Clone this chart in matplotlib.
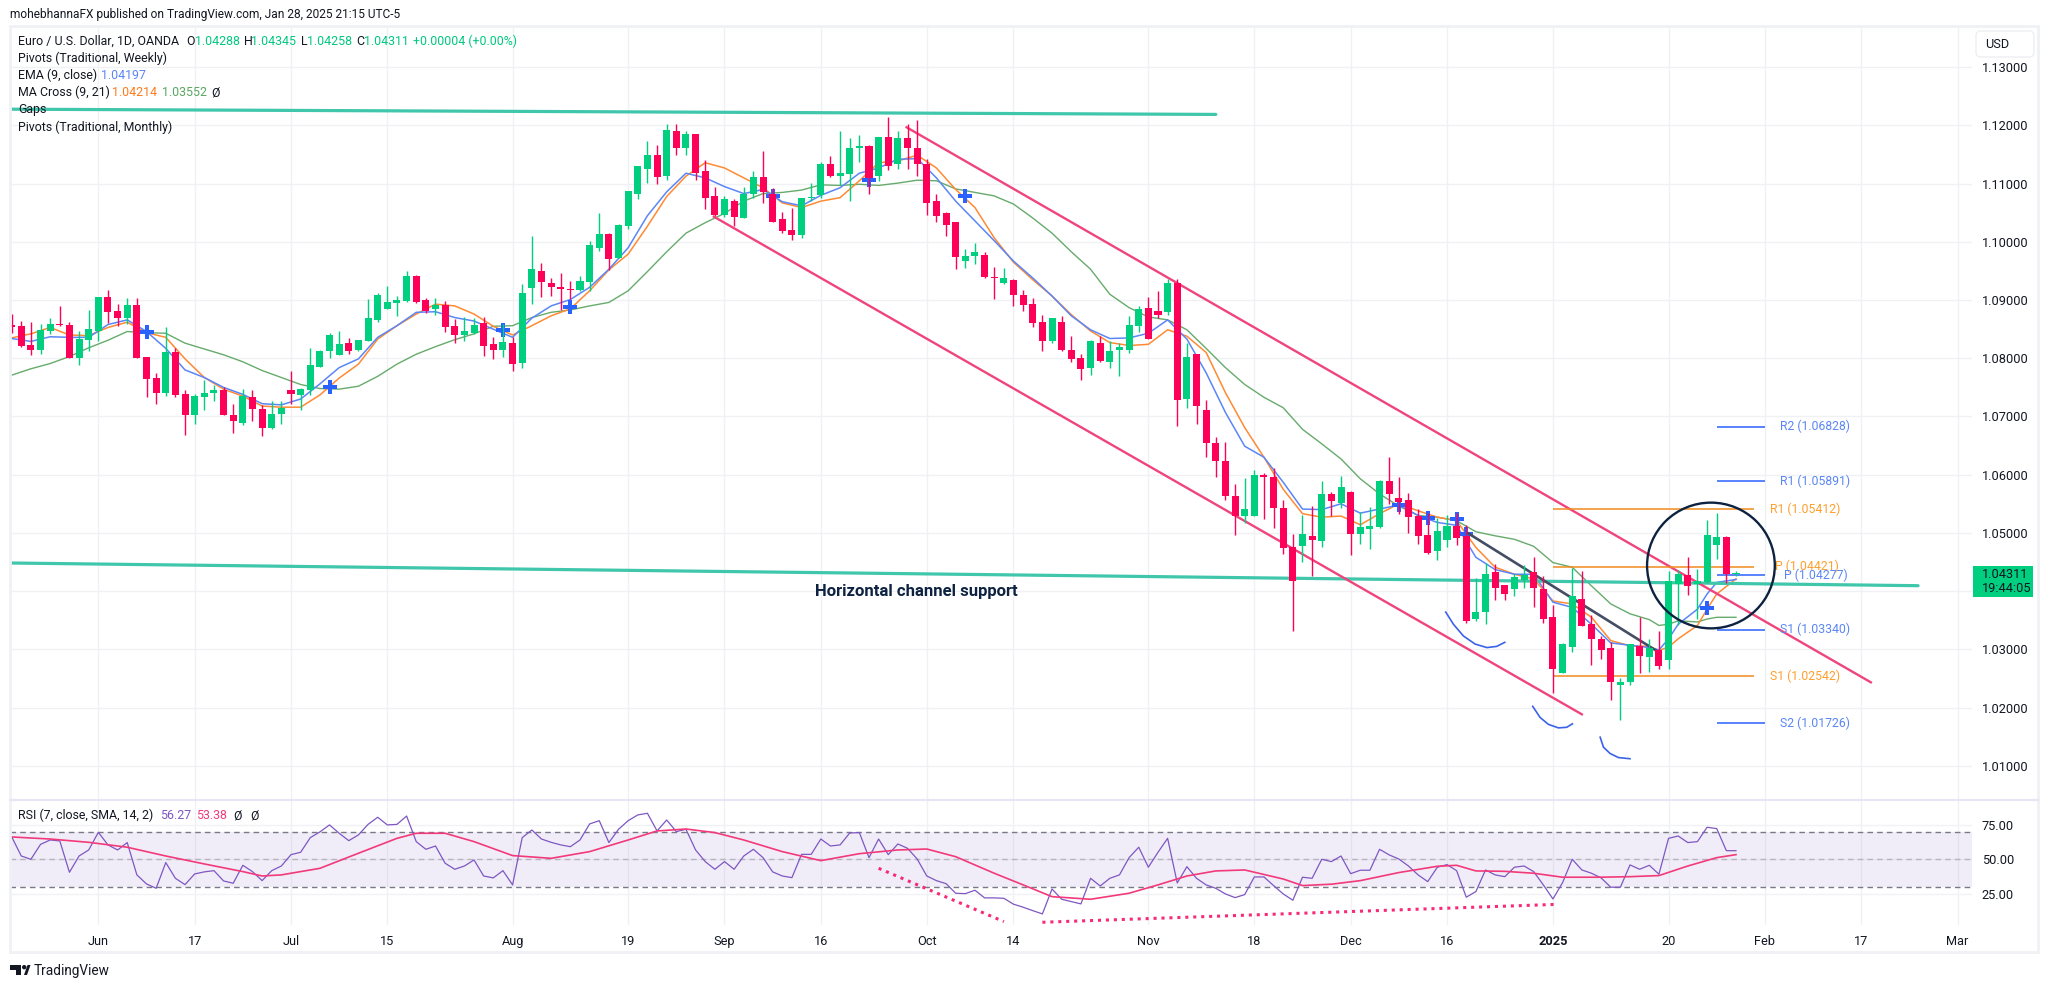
import matplotlib
matplotlib.use("Agg")
import matplotlib.pyplot as plt
from matplotlib.patches import Ellipse, Rectangle, FancyBboxPatch, Polygon, Circle
from matplotlib.transforms import Affine2D

# EURUSD daily candles
opens = [
    1.0857, 1.0855, 1.0823, 1.0814, 1.0847, 1.0859, 1.0857, 1.0800, 1.0831, 1.0847,
    1.0905, 1.0881, 1.0869, 1.0891, 1.0802, 1.0766, 1.0741, 1.0811, 1.0739, 1.0703,
    1.0734, 1.0741, 1.0746, 1.0703, 1.0689, 1.0734, 1.0713, 1.0681, 1.0705, 1.0746,
    1.0737, 1.0746, 1.0785, 1.0813, 1.0806, 1.0826, 1.0814, 1.0830, 1.0866, 1.0884,
    1.0895, 1.0898, 1.0941, 1.0900, 1.0884, 1.0891, 1.0855, 1.0840, 1.0843, 1.0860,
    1.0825, 1.0814, 1.0826, 1.0792, 1.0921, 1.0950, 1.0929, 1.0922, 1.0919, 1.0917,
    1.0931, 1.0989, 1.1013, 1.0972, 1.1027, 1.1082, 1.1126, 1.1150, 1.1113, 1.1191,
    1.1161, 1.1185, 1.1121, 1.1078, 1.1047, 1.1071, 1.1041, 1.1083, 1.1111, 1.1083,
    1.1039, 1.1020, 1.1011, 1.1075, 1.1080, 1.1133, 1.1114, 1.1116, 1.1162, 1.1164,
    1.1114, 1.1181, 1.1133, 1.1178, 1.1161, 1.1133, 1.1070, 1.1049, 1.1034, 1.0967,
    1.0975, 1.0977, 1.0939, 1.0929, 1.0934, 1.0908, 1.0893, 1.0862, 1.0829, 1.0862,
    1.0815, 1.0800, 1.0783, 1.0827, 1.0793, 1.0814, 1.0815, 1.0855, 1.0886, 1.0882,
    1.0879, 1.0930, 1.0730, 1.0807, 1.0711, 1.0654, 1.0623, 1.0563, 1.0529, 1.0529,
    1.0599, 1.0596, 1.0543, 1.0476, 1.0478, 1.0495, 1.0486, 1.0567, 1.0551, 1.0570,
    1.0498, 1.0507, 1.0510, 1.0589, 1.0560, 1.0556, 1.0529, 1.0496, 1.0469, 1.0488,
    1.0512, 1.0494, 1.0352, 1.0364, 1.0433, 1.0410, 1.0403, 1.0419, 1.0433, 1.0403,
    1.0355, 1.0259, 1.0304, 1.0386, 1.0343, 1.0318, 1.0302, 1.0239, 1.0244, 1.0306,
    1.0286, 1.0299, 1.0282, 1.0412, 1.0427, 1.0412, 1.0415, 1.0479, 1.0493, 1.04288,
]
highs = [
    1.0876, 1.0864, 1.0862, 1.0859, 1.0869, 1.0890, 1.0862, 1.0847, 1.0883, 1.0905,
    1.0917, 1.0893, 1.0903, 1.0903, 1.0802, 1.0775, 1.0854, 1.0817, 1.0746, 1.0739,
    1.0763, 1.0754, 1.0751, 1.0722, 1.0747, 1.0746, 1.0720, 1.0727, 1.0727, 1.0778,
    1.0749, 1.0818, 1.0814, 1.0843, 1.0847, 1.0835, 1.0831, 1.0902, 1.0912, 1.0924,
    1.0907, 1.0950, 1.0943, 1.0903, 1.0903, 1.0898, 1.0867, 1.0871, 1.0869, 1.0871,
    1.0836, 1.0859, 1.0836, 1.0927, 1.1010, 1.0963, 1.0938, 1.0946, 1.0933, 1.0941,
    1.1001, 1.1049, 1.1016, 1.1030, 1.1087, 1.1131, 1.1174, 1.1166, 1.1202, 1.1202,
    1.1191, 1.1186, 1.1140, 1.1095, 1.1078, 1.1073, 1.1095, 1.1121, 1.1157, 1.1092,
    1.1051, 1.1058, 1.1076, 1.1102, 1.1138, 1.1147, 1.1190, 1.1179, 1.1183, 1.1167,
    1.1181, 1.1215, 1.1190, 1.1203, 1.1210, 1.1143, 1.1083, 1.1051, 1.1034, 1.0987,
    1.0998, 1.0982, 1.0957, 1.0955, 1.0936, 1.0917, 1.0903, 1.0875, 1.0870, 1.0872,
    1.0839, 1.0807, 1.0831, 1.0839, 1.0829, 1.0827, 1.0872, 1.0889, 1.0906, 1.0915,
    1.0937, 1.0937, 1.0826, 1.0807, 1.0728, 1.0665, 1.0656, 1.0584, 1.0594, 1.0608,
    1.0603, 1.0611, 1.0557, 1.0498, 1.0531, 1.0546, 1.0589, 1.0570, 1.0598, 1.0572,
    1.0536, 1.0545, 1.0591, 1.0630, 1.0596, 1.0568, 1.0541, 1.0535, 1.0525, 1.0530,
    1.0535, 1.0513, 1.0422, 1.0448, 1.0446, 1.0410, 1.0429, 1.0445, 1.0458, 1.0426,
    1.0376, 1.0311, 1.0439, 1.0434, 1.0359, 1.0323, 1.0313, 1.0251, 1.0309, 1.0355,
    1.0317, 1.0331, 1.0434, 1.0436, 1.0458, 1.0438, 1.0522, 1.0534, 1.0494, 1.04345,
]
lows = [
    1.0843, 1.0819, 1.0806, 1.0807, 1.0842, 1.0855, 1.0800, 1.0789, 1.0813, 1.0830,
    1.0860, 1.0855, 1.0859, 1.0800, 1.0734, 1.0722, 1.0735, 1.0734, 1.0669, 1.0687,
    1.0711, 1.0727, 1.0703, 1.0672, 1.0686, 1.0693, 1.0667, 1.0679, 1.0687, 1.0722,
    1.0711, 1.0737, 1.0785, 1.0800, 1.0806, 1.0807, 1.0813, 1.0830, 1.0862, 1.0884,
    1.0872, 1.0896, 1.0895, 1.0878, 1.0874, 1.0845, 1.0826, 1.0830, 1.0842, 1.0804,
    1.0799, 1.0802, 1.0778, 1.0783, 1.0893, 1.0905, 1.0907, 1.0883, 1.0902, 1.0915,
    1.0915, 1.0984, 1.0951, 1.0972, 1.1023, 1.1073, 1.1101, 1.1099, 1.1106, 1.1150,
    1.1150, 1.1106, 1.1056, 1.1044, 1.1042, 1.1027, 1.1041, 1.1075, 1.1066, 1.1034,
    1.1016, 1.1003, 1.1006, 1.1071, 1.1076, 1.1111, 1.1097, 1.1070, 1.1137, 1.1083,
    1.1104, 1.1123, 1.1126, 1.1126, 1.1114, 1.1047, 1.1034, 1.1010, 1.0953, 1.0955,
    1.0962, 1.0938, 1.0902, 1.0927, 1.0890, 1.0882, 1.0853, 1.0812, 1.0826, 1.0812,
    1.0793, 1.0762, 1.0771, 1.0793, 1.0783, 1.0769, 1.0809, 1.0846, 1.0833, 1.0870,
    1.0874, 1.0683, 1.0714, 1.0687, 1.0630, 1.0596, 1.0557, 1.0497, 1.0517, 1.0529,
    1.0524, 1.0509, 1.0464, 1.0332, 1.0450, 1.0426, 1.0476, 1.0529, 1.0543, 1.0462,
    1.0481, 1.0473, 1.0509, 1.0550, 1.0533, 1.0499, 1.0481, 1.0463, 1.0453, 1.0476,
    1.0479, 1.0345, 1.0349, 1.0343, 1.0385, 1.0385, 1.0391, 1.0405, 1.0373, 1.0345,
    1.0225, 1.0259, 1.0296, 1.0340, 1.0273, 1.0283, 1.0213, 1.0179, 1.0239, 1.0259,
    1.0261, 1.0266, 1.0266, 1.0342, 1.0393, 1.0352, 1.0414, 1.0455, 1.0414, 1.04258,
]
closes = [
    1.0854, 1.0821, 1.0814, 1.0849, 1.0859, 1.0857, 1.0800, 1.0834, 1.0850, 1.0905,
    1.0879, 1.0869, 1.0891, 1.0800, 1.0765, 1.0741, 1.0811, 1.0737, 1.0703, 1.0735,
    1.0741, 1.0746, 1.0703, 1.0693, 1.0735, 1.0713, 1.0681, 1.0705, 1.0715, 1.0739,
    1.0747, 1.0789, 1.0813, 1.0840, 1.0825, 1.0813, 1.0831, 1.0869, 1.0908, 1.0896,
    1.0900, 1.0941, 1.0896, 1.0881, 1.0891, 1.0854, 1.0840, 1.0847, 1.0857, 1.0821,
    1.0814, 1.0828, 1.0790, 1.0912, 1.0953, 1.0931, 1.0922, 1.0919, 1.0917, 1.0933,
    1.0994, 1.1013, 1.0970, 1.1029, 1.1087, 1.1130, 1.1150, 1.1111, 1.1193, 1.1161,
    1.1185, 1.1119, 1.1076, 1.1046, 1.1073, 1.1042, 1.1083, 1.1111, 1.1085, 1.1034,
    1.1018, 1.1011, 1.1075, 1.1076, 1.1133, 1.1113, 1.1118, 1.1162, 1.1164, 1.1109,
    1.1181, 1.1131, 1.1178, 1.1162, 1.1133, 1.1066, 1.1044, 1.1029, 1.0974, 1.0975,
    1.0982, 1.0939, 1.0938, 1.0938, 1.0909, 1.0891, 1.0860, 1.0829, 1.0869, 1.0814,
    1.0798, 1.0781, 1.0829, 1.0795, 1.0812, 1.0819, 1.0857, 1.0884, 1.0833, 1.0875,
    1.0930, 1.0728, 1.0803, 1.0718, 1.0654, 1.0623, 1.0563, 1.0529, 1.0541, 1.0599,
    1.0596, 1.0543, 1.0474, 1.0418, 1.0498, 1.0488, 1.0567, 1.0555, 1.0579, 1.0498,
    1.0510, 1.0512, 1.0589, 1.0567, 1.0553, 1.0527, 1.0494, 1.0465, 1.0503, 1.0512,
    1.0491, 1.0349, 1.0364, 1.0429, 1.0405, 1.0395, 1.0424, 1.0427, 1.0405, 1.0352,
    1.0266, 1.0309, 1.0391, 1.0340, 1.0318, 1.0299, 1.0244, 1.0244, 1.0309, 1.0288,
    1.0302, 1.0272, 1.0417, 1.0429, 1.0409, 1.0418, 1.0496, 1.0493, 1.0429, 1.04311,
]

# moving averages, read at every second bar and then at the turning points
ma_bars = list(range(0, 152, 2)) + [152, 154, 156, 158, 160, 162, 164, 166, 168, 170, 171, 172, 173, 175, 176, 177, 179]
ema9 = [
    1.0834, 1.0829, 1.0837, 1.0836, 1.0836, 1.0858, 1.0866, 1.0846, 1.0817, 1.0780,
    1.0767, 1.0750, 1.0738, 1.0722, 1.0720, 1.0730, 1.0756, 1.0784, 1.0799, 1.0836,
    1.0856, 1.0879, 1.0880, 1.0870, 1.0864, 1.0850, 1.0836,
    1.0869, 1.0890, 1.0901, 1.0922, 1.0953, 1.0990, 1.1045, 1.1086, 1.1118, 1.1110,
    1.1095, 1.1083, 1.1090, 1.1069, 1.1062, 1.1080, 1.1093, 1.1118, 1.1127, 1.1142,
    1.1143, 1.1110, 1.1070, 1.1036, 1.1002, 1.0967,
    1.0938, 1.0907, 1.0873, 1.0849, 1.0834, 1.0835, 1.0843, 1.0866, 1.0833, 1.0775,
    1.0707, 1.0649, 1.0630, 1.0587, 1.0541, 1.0540, 1.0550, 1.0534, 1.0541, 1.0548,
    1.0530, 1.0518, 1.0513,
    1.0458, 1.0437, 1.0429, 1.0429, 1.0381, 1.0372, 1.0343, 1.0311, 1.0307, 1.0303,
    1.0299, 1.0318, 1.0343, 1.0369, 1.0395, 1.0415, 1.0420,
]
ma_fast = [
    1.0835, 1.0842, 1.0853, 1.0840, 1.0839, 1.0853, 1.0862, 1.0844, 1.0836, 1.0799,
    1.0767, 1.0747, 1.0735, 1.0718, 1.0716, 1.0716, 1.0737, 1.0766, 1.0790, 1.0833,
    1.0856, 1.0876, 1.0893, 1.0890, 1.0876, 1.0855, 1.0840,
    1.0856, 1.0873, 1.0885, 1.0916, 1.0952, 1.0979, 1.1027, 1.1078, 1.1113, 1.1136,
    1.1127, 1.1110, 1.1093, 1.1067, 1.1059, 1.1070, 1.1076, 1.1105, 1.1136, 1.1139,
    1.1149, 1.1127, 1.1090, 1.1059, 1.1007, 1.0965,
    1.0935, 1.0907, 1.0875, 1.0847, 1.0827, 1.0822, 1.0824, 1.0849, 1.0838, 1.0810,
    1.0741, 1.0681, 1.0630, 1.0575, 1.0533, 1.0527, 1.0529, 1.0514, 1.0533, 1.0550,
    1.0538, 1.0527, 1.0521,
    1.0475, 1.0441, 1.0429, 1.0421, 1.0383, 1.0378, 1.0355, 1.0315, 1.0306, 1.0305,
    1.0298, 1.0304, 1.0318, 1.0341, 1.0369, 1.0395, 1.0421,
]
ma_slow = [
    1.0771, 1.0782, 1.0791, 1.0803, 1.0818, 1.0831, 1.0846, 1.0844, 1.0843, 1.0826,
    1.0816, 1.0806, 1.0794, 1.0779, 1.0767, 1.0755, 1.0748, 1.0747, 1.0752, 1.0769,
    1.0790, 1.0807, 1.0820, 1.0832, 1.0842, 1.0855, 1.0856,
    1.0870, 1.0879, 1.0883, 1.0890, 1.0896, 1.0916, 1.0949, 1.0983, 1.1015, 1.1033,
    1.1049, 1.1070, 1.1083, 1.1085, 1.1089, 1.1098, 1.1097, 1.1099, 1.1097, 1.1101,
    1.1106, 1.1105, 1.1091, 1.1085, 1.1079, 1.1065,
    1.1041, 1.1015, 1.0983, 1.0953, 1.0910, 1.0887, 1.0871, 1.0866, 1.0849, 1.0817,
    1.0784, 1.0755, 1.0733, 1.0715, 1.0678, 1.0653, 1.0627, 1.0593, 1.0567, 1.0546,
    1.0530, 1.0527, 1.0521,
    1.0502, 1.0495, 1.0489, 1.0477, 1.0449, 1.0441, 1.0409, 1.0378, 1.0361, 1.0351,
    1.0341, 1.0343, 1.0349, 1.0347, 1.0352, 1.0355, 1.0355,
]
cross_bars = [14, 33, 51, 58, 79, 89, 99, 144, 147, 150, 151, 176]
cross_prices = [1.0846, 1.0750, 1.0849, 1.0888, 1.1078, 1.1107, 1.1078, 1.0548, 1.0526, 1.0524, 1.0498, 1.0371]

# RSI pane
rsi = [
    66.5, 52.4, 50.0, 60.9, 64.1, 63.4, 40.5, 52.4, 56.8, 69.7,
    60.5, 56.8, 62.2, 38.6, 32.0, 28.8, 47.6, 36.1, 31.5, 39.3,
    40.8, 41.7, 34.2, 32.5, 45.6, 41.0, 34.4, 41.7, 45.1, 53.4,
    55.1, 65.8, 70.0, 75.1, 69.0, 63.6, 67.8, 75.5, 80.7, 75.1,
    75.5, 81.6, 62.9, 57.3, 59.7, 47.1, 42.7, 45.1, 49.5, 37.8,
    36.4, 41.7, 31.3, 65.8, 71.4, 64.8, 62.4, 60.5, 59.2, 64.1,
    75.8, 78.2, 62.2, 71.9, 78.2, 82.4, 83.6, 70.7, 78.7, 70.2,
    71.9, 56.8, 48.3, 42.7, 48.3, 42.7, 52.4, 57.3, 51.2, 40.8,
    37.8, 36.6, 53.6, 53.6, 64.8, 59.7, 60.5, 69.2, 69.5, 51.2,
    64.8, 53.4, 61.2, 58.0, 50.2, 37.8, 34.4, 32.2, 25.2, 24.9,
    27.4, 21.8, 21.8, 21.5, 17.2, 15.0, 12.5, 10.1, 28.3, 20.8,
    19.1, 17.4, 36.1, 30.5, 36.1, 38.6, 51.2, 58.8, 44.2, 55.1,
    65.3, 32.7, 44.6, 36.1, 31.3, 28.8, 24.7, 22.0, 24.2, 37.1,
    37.1, 30.8, 24.7, 20.1, 36.9, 36.1, 50.0, 48.3, 52.4, 39.5,
    42.0, 42.0, 57.3, 53.2, 50.2, 45.1, 38.6, 33.7, 44.2, 46.1,
    41.7, 22.3, 26.4, 42.2, 38.6, 37.3, 44.2, 45.1, 41.0, 31.3,
    21.0, 33.0, 50.0, 42.2, 39.8, 36.4, 29.6, 29.6, 45.9, 42.7,
    45.6, 39.1, 65.3, 67.0, 62.2, 62.9, 73.4, 72.4, 56.3, 56.27,
]
rsi_ma_bars = [0, 4, 8, 12, 16, 20, 24, 26, 28, 32, 36, 40, 42, 45, 48, 52, 56, 60, 64, 67, 70, 73, 76, 80, 84, 88, 92, 95, 98,
               102, 105, 108, 112, 116, 119, 122, 125, 128, 132, 134, 137, 140, 144, 148, 150, 152, 155, 158, 161, 165, 168,
               171, 174, 177, 179]
rsi_ma = [66.3, 64.8, 62.4, 58.8, 52.4, 46.6, 41.0, 37.8, 38.6, 43.4, 54.4, 65.3, 69.0, 69.0, 62.9, 52.7, 50.7, 55.6, 64.1,
          70.7, 72.1, 69.5, 64.1, 55.6, 49.0, 54.1, 56.8, 57.5, 51.9, 39.8, 31.3, 22.7, 20.8, 25.2, 31.3, 37.8, 41.5, 42.2,
          35.6, 30.8, 31.8, 34.4, 40.3, 44.9, 45.6, 41.5, 41.2, 39.8, 36.9, 36.9, 37.3, 38.1, 45.1, 51.2, 53.38]

# time axis labels at their bars
date_ticks = [9, 19, 29, 39, 52, 64, 74, 84, 95, 104, 118, 129, 139, 149, 160, 172, 182, 192, 202]
date_labels = ["Jun", "17", "Jul", "15", "Aug", "19", "Sep", "16", "Oct", "14", "Nov", "18", "Dec", "16", "2025", "20", "Feb", "17", "Mar"]
price_ticks = [1.01, 1.02, 1.03, 1.04, 1.05, 1.06, 1.07, 1.08, 1.09, 1.10, 1.11, 1.12, 1.13]
rsi_ticks = [25, 50, 75]

# pivots: name, value
monthly_pivots = [("R1", 1.05412), ("P", 1.04421), ("S1", 1.02542)]
weekly_pivots = [("R2", 1.06828), ("R1", 1.05891), ("P", 1.04277), ("S1", 1.03340), ("S2", 1.01726)]

# hand drawn lines on the chart (bar, price)
teal_top = ([-0.2, 125.0], [1.1228, 1.1219])
teal_support = ([-0.2, 197.9], [1.04483, 1.04093])
channel_top = ([92.9, 193.0], [1.11969, 1.02433])
channel_bottom = ([72.9, 163.0], [1.10433, 1.01883])
dark_line = ([151.2, 170.9], [1.04993, 1.02959])
arc_1 = ([148.87, 149.67, 150.70, 151.92, 153.13, 154.16, 155.0], [1.0364, 1.0343, 1.0323, 1.0309, 1.0303, 1.0305, 1.0312])
arc_2 = ([157.9, 158.66, 159.53, 160.57, 161.43, 162.02], [1.0202, 1.0183, 1.0171, 1.0165, 1.0166, 1.0172])
arc_3 = ([164.9, 165.24, 165.93, 166.8, 168.0], [1.0149, 1.0132, 1.0121, 1.0114, 1.0112])
rsi_dots_1 = ([90, 103], [43.4, 4.5])
rsi_dots_2 = ([107, 160.5], [4.0, 17.1])

GREEN = "#00cf7f"
RED = "#ff0058"
GRID = "#f0f1f5"
TEXT = "#131722"
W, H = 2048, 988

plt.rcParams["font.family"] = ["Roboto", "DejaVu Sans"]
plt.rcParams["font.size"] = 9

fig = plt.figure(figsize=(W / 100, H / 100), dpi=100, facecolor="white")
to_px = Affine2D().scale(1 / W, -1 / H).translate(0, 1) + fig.transFigure


def label(x, y, s, **kw):
    kw.setdefault("va", "center")
    kw.setdefault("color", TEXT)
    kw.setdefault("fontsize", 8.9)
    return fig.text(x / W, 1 - y / H, s, **kw)


ax = fig.add_axes([10 / W, 1 - 800 / H, 1962 / W, 773 / H])
ax2 = fig.add_axes([10 / W, 1 - 925 / H, 1962 / W, 125 / H], sharex=ax)
for a in (ax, ax2):
    for s in a.spines.values():
        s.set_visible(False)
    a.set_axisbelow(True)
    a.grid(True, color=GRID, lw=1.0)
    a.yaxis.tick_right()
    a.tick_params(axis="both", length=0, labelsize=9.2, labelcolor=TEXT)
    a.tick_params(axis="y", pad=7)

ax.set_xlim(-0.17, 203.5)
ax.set_ylim(1.00411, 1.13692)
ax.set_yticks(price_ticks)
ax.set_yticklabels(["%.5f" % p for p in price_ticks])
ax.set_xticks(date_ticks)
ax.tick_params(axis="x", labelbottom=False)

bars = list(range(len(closes)))

# lines first, candles sit on top of them
ax.plot(ma_bars, ma_slow, color="#66ab6c", lw=1.0, zorder=2)
ax.plot(ma_bars, ma_fast, color="#ff8a33", lw=1.1, zorder=2.1)
ax.plot(ma_bars, ema9, color="#5b86f7", lw=1.1, zorder=2.2)
ax.plot(cross_bars, cross_prices, ls="", marker="P", ms=10.5, mew=0, color="#2962ff", zorder=2.5)

for xs, ys in (teal_top, teal_support):
    ax.plot(xs, ys, color="#3fc6ab", lw=2.3, solid_capstyle="round", zorder=3)
for xs, ys in (channel_top, channel_bottom):
    ax.plot(xs, ys, color="#f0447c", lw=1.7, zorder=3)
ax.plot(*dark_line, color="#434d63", lw=1.9, zorder=3)
for xs, ys in (arc_1, arc_2, arc_3):
    ax.plot(xs, ys, color="#3b62e8", lw=1.2, zorder=3)

for name, value in monthly_pivots:
    ax.hlines(value, 160, 180.9, color="#f08a1d", lw=1.1, zorder=3)
    ax.text(183.1 if name == "P" else 182.5, value, "%s (%.5f)" % (name, value), color="#ff9f2e", fontsize=8.8, va="center", zorder=6)
for name, value in weekly_pivots:
    ax.hlines(value, 177, 182, color="#2962ff", lw=1.1, zorder=3)
    ax.text(184.0 if name == "P" else 183.6, value, "%s (%.5f)" % (name, value), color="#5b86f5", fontsize=8.8, va="center", zorder=6)

for x, o, h, l, c in zip(bars, opens, highs, lows, closes):
    col = GREEN if c >= o else RED
    ax.vlines(x, l, h, color=col, lw=1.0, zorder=4)
    ax.bar(x, max(abs(c - o), 0.00018), bottom=min(o, c), width=0.73, color=col, lw=0, zorder=4.1)

ax.add_patch(Ellipse((176.4, 1.0444), 13.26, 0.0216, fill=False, ec="#0d2240", lw=1.7, zorder=5))
ax.text(93.9, 1.0399, "Horizontal channel support", color="#0d2240", fontsize=12.0, fontweight="bold", ha="center", va="center", zorder=6)

# RSI
ax2.set_ylim(2.0, 93.3)
ax2.set_yticks(rsi_ticks)
ax2.set_yticklabels(["%.2f" % r for r in rsi_ticks])
ax2.axhspan(30, 70, color="#7e57c2", alpha=0.1, lw=0, zorder=1)
ax2.axhline(70, color="#787b86", lw=1.0, ls=(0, (4, 3)), zorder=1.5)
ax2.axhline(30, color="#787b86", lw=1.0, ls=(0, (4, 3)), zorder=1.5)
ax2.axhline(50, color="#b6b4bf", lw=1.0, ls=(0, (4, 3)), zorder=1.5)
ax2.plot(bars, rsi, color="#7e57c2", lw=0.9, zorder=2)
ax2.plot(rsi_ma_bars, rsi_ma, color="#f23a7a", lw=1.2, zorder=2.1)
for xs, ys in (rsi_dots_1, rsi_dots_2):
    ax2.plot(xs, ys, color="#f72a78", lw=2.2, ls=(0, (1, 1.6)), zorder=3)
ax2.set_xticks(date_ticks)
ax2.set_xticklabels(date_labels)
ax2.tick_params(axis="x", pad=7)
for t in ax2.get_xticklabels():
    if t.get_text() == "2025":
        t.set_fontweight("bold")

# frame around the panes
fig.add_artist(Rectangle((9.5, 26.5), 2028.5, 925.5, transform=to_px, fill=False, ec="#f0f1f4", lw=2.0, zorder=1))
fig.add_artist(plt.Line2D([10, 2038], [800, 800], transform=to_px, color="#e7e4f4", lw=1.5, zorder=1))

# USD button and last price tag
fig.add_artist(FancyBboxPatch((1978, 33), 54, 22, boxstyle="round,pad=2,rounding_size=5", transform=to_px, fc="white", ec="#eeeff2", lw=1.0, zorder=2))
label(1985, 44.5, "USD", fontsize=9.2, zorder=3)
fig.add_artist(Rectangle((1973, 566), 60, 31, transform=to_px, fc=GREEN, ec="none", zorder=5))
label(1981.5, 574.7, "1.04311", fontsize=9.2, zorder=6)
label(1981.5, 588.3, "19:44:05", fontsize=9.2, zorder=6)

# header and legend rows
label(10, 14.7, "mohebhannaFX published on TradingView.com, Jan 28, 2025 21:15 UTC-5", fontsize=8.6)
label(18, 41.7, "Euro / U.S. Dollar, 1D, OANDA")
for x, s in ((186, "O"), (243.7, "H"), (301, "L"), (356, "C")):
    label(x, 41.7, s)
for x, s in ((194.7, "1.04288"), (251.5, "1.04345"), (307.5, "1.04258"), (363.8, "1.04311"), (412.8, "+0.00004 (+0.00%)")):
    label(x, 41.7, s, color="#00c880")
label(18, 58.7, "Pivots (Traditional, Weekly)")
label(18, 75.7, "EMA (9, close)")
label(101.5, 75.7, "1.04197", color="#5b86f7")
label(18, 92.7, "MA Cross (9, 21)")
label(111.9, 92.7, "1.04214", color="#ff7a1a")
label(161.7, 92.7, "1.03552", color="#5aa760")
label(211, 92.7, "Ø")
label(18, 110, "Gaps")
label(18, 127, "Pivots (Traditional, Monthly)")

label(18.3, 815.7, "RSI (7, close, SMA, 14, 2)")
label(160, 815.7, "56.27", color="#7e57c2")
label(196, 815.7, "53.38", color="#f23a7a")
label(233, 815.7, "Ø")
label(250, 815.7, "Ø")

# TradingView mark
fig.add_artist(Polygon([(10, 965), (21, 965), (21, 975), (16, 975), (16, 970), (10, 970)], transform=to_px, fc=TEXT, ec="none"))
fig.add_artist(Circle((24.2, 967.2), 2.2, transform=to_px, fc=TEXT, ec="none"))
fig.add_artist(Polygon([(24, 975), (27.5, 965), (30.5, 965), (27, 975)], transform=to_px, fc=TEXT, ec="none"))
label(34, 970.7, "TradingView", fontsize=9.8)

fig.savefig("out.png", dpi=100)
